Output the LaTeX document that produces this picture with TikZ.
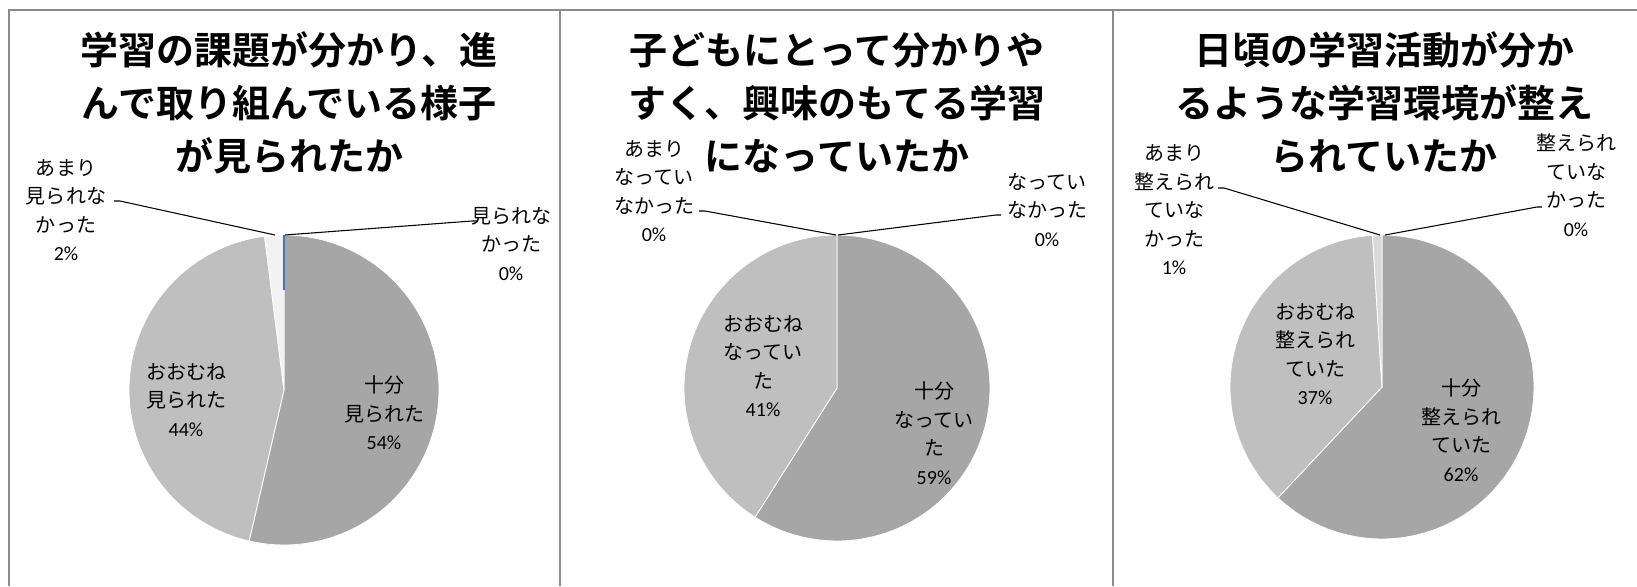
\documentclass[tikz,border=0pt]{standalone}
\usepackage{fontspec}
\setmainfont{Noto Sans CJK JP}[BoldFont={Noto Sans CJK JP Bold}]
\newfontfamily\numf{Carlito}
\definecolor{cfull}{HTML}{A6A6A6}
\definecolor{cmost}{HTML}{BFBFBF}
\definecolor{cfewA}{HTML}{F2F2F2}
\definecolor{cfewC}{HTML}{D9D9D9}
\definecolor{frm}{HTML}{8C8C8C}
\definecolor{zblue}{HTML}{4472C4}
\newcommand{\pieslc}[6]{%
  \fill[#6] (#1,#2) -- plot[domain=#4:#5, samples=80] ({#1+#3*sin(\x)},{#2-#3*cos(\x)}) -- cycle;
  \draw[white, line width=0.6pt, line join=round] (#1,#2) -- plot[domain=#4:#5, samples=80] ({#1+#3*sin(\x)},{#2-#3*cos(\x)}) -- cycle;
}
\tikzset{
  ttl/.style={font=\bfseries\fontsize{28.5pt}{39.75pt}\selectfont, align=center, inner sep=0pt},
  lbl/.style={font=\fontsize{15pt}{21.4pt}\selectfont, align=center, inner sep=0pt},
  leader/.style={draw=black, line width=0.8pt, line join=round},
  frame/.style={draw=frm, line width=1.2pt},
}
\begin{document}
\begin{tikzpicture}[x=0.75pt, y=-0.75pt]
\useasboundingbox (0,0) rectangle (1637,586);
\fill[white] (0,0) rectangle (1637,586);
% frames
\draw[frame] (9,586) -- (9,10) -- (1637,10);
\draw[frame] (560,10) -- (560,586);
\draw[frame] (1113,10) -- (1113,586);

% ---------- chart 1 ----------
\pieslc{284}{390}{155}{0}{193}{cfull}
\pieslc{284}{390}{155}{193}{352.8}{cmost}
\pieslc{284}{390}{155}{352.8}{360}{cfewA}
\coordinate (c1) at (284,290);
\coordinate (t1) at (284,235);
\draw[zblue, line width=1.2pt] (c1) -- (t1);
\node[ttl] (title1) at (289,103) {学習の課題が分かり、進\\んで取り組んでいる様子\\が見られたか};
\node[lbl] (a1) at (66,210) {あまり\\見られな\\かった\\{\numf 2\%}};
\node[lbl] (n1) at (511,244) {見られな\\かった\\{\numf 0\%}};
\node[lbl] (f1) at (384,413) {十分\\見られた\\{\numf 54\%}};
\node[lbl] (m1) at (186,400) {おおむね\\見られた\\{\numf 44\%}};
\coordinate (a1s) at (114,201);
\coordinate (a1k) at (120,201);
\coordinate (a1p) at (275,235);
\coordinate (n1s) at (477,221);
\coordinate (n1k) at (472,221);
\coordinate (n1p) at (285,235);
\draw[leader] (a1s) -- (a1k) -- (a1p);
\draw[leader] (n1p) -- (n1k) -- (n1s);

% ---------- chart 2 ----------
\pieslc{837}{388}{153}{0}{212.4}{cfull}
\pieslc{837}{388}{153}{212.4}{360}{cmost}
\node[ttl] (title2) at (837,103) {子どもにとって分かりや\\すく、興味のもてる学習\\になっていたか};
\node[lbl] (a2) at (654,191) {あまり\\なってい\\なかった\\{\numf 0\%}};
\node[lbl] (n2) at (1047,210) {なってい\\なかった\\{\numf 0\%}};
\node[lbl] (f2) at (934,433) {十分\\なってい\\た\\{\numf 59\%}};
\node[lbl] (m2) at (763,366) {おおむね\\なってい\\た\\{\numf 41\%}};
\coordinate (a2s) at (699,211);
\coordinate (a2k) at (705,211);
\coordinate (a2p) at (836,235);
\coordinate (n2s) at (1001,215);
\coordinate (n2k) at (996,215);
\coordinate (n2p) at (838,235);
\draw[leader] (a2s) -- (a2k) -- (a2p);
\draw[leader] (n2p) -- (n2k) -- (n2s);

% ---------- chart 3 ----------
\pieslc{1382}{387}{152}{0}{223.2}{cfull}
\pieslc{1382}{387}{152}{223.2}{356.4}{cmost}
\pieslc{1382}{387}{152}{356.4}{360}{cfewC}
\node[ttl] (title3) at (1384,103) {日頃の学習活動が分か\\るような学習環境が整え\\られていたか};
\node[lbl] (a3) at (1174,210) {あまり\\整えられ\\ていな\\かった\\{\numf 1\%}};
\node[lbl] (n3) at (1576,185) {整えられ\\ていな\\かった\\{\numf 0\%}};
\node[lbl] (f3) at (1461,430) {十分\\整えられ\\ていた\\{\numf 62\%}};
\node[lbl] (m3) at (1315,354) {おおむね\\整えられ\\ていた\\{\numf 37\%}};
\coordinate (a3s) at (1218,188);
\coordinate (a3k) at (1224,188);
\coordinate (a3p) at (1380,235);
\coordinate (n3s) at (1542,207);
\coordinate (n3k) at (1537,207);
\coordinate (n3p) at (1385,235);
\draw[leader] (a3s) -- (a3k) -- (a3p);
\draw[leader] (n3p) -- (n3k) -- (n3s);
\end{tikzpicture}
\end{document}
